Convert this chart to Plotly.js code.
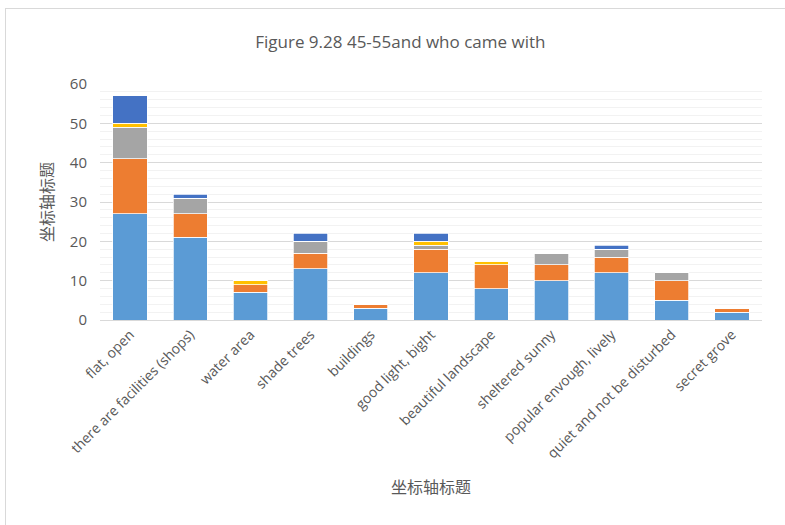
<!DOCTYPE html>
<html>
<head>
<meta charset="utf-8">
<script src="https://cdn.plot.ly/plotly-3.0.1.min.js"></script>
<style>
html,body{margin:0;padding:0;background:#fff;}
#wrap{position:relative;width:785px;height:525px;}
#chart{position:absolute;left:0;top:0;width:785px;height:525px;}
#frame{position:absolute;left:5px;top:8px;width:790px;height:530px;border:1px solid #D9D9D9;pointer-events:none;}
</style>
</head>
<body>
<div id="wrap"><div id="chart"></div><div id="frame"></div></div>
<script>
const categories = ["flat, open","there are facilities (shops)","water area","shade trees","buildings","good light, bight","beautiful landscape","sheltered sunny","popular envough, lively","quiet and not be disturbed","secret grove"];
const seriesNames = ["Series 1","Series 2","Series 3","Series 4","Series 5"];
const series1 = [27,21,7,13,3,12,8,10,12,5,2];
const series2 = [14,6,2,4,1,6,6,4,4,5,1];
const series3 = [8,4,0,3,0,1,0,3,2,2,0];
const series4 = [1,0,1,0,0,1,1,0,0,0,0];
const series5 = [7,1,0,2,0,2,0,0,1,0,0];
const colors = ["#5B9BD5","#ED7D31","#A5A5A5","#FFC000","#4472C4"];
const allSeries = [series1,series2,series3,series4,series5];

const FONT = "'Open Sans', 'Noto Sans', sans-serif";
const CJK = "'Noto Sans CJK SC', sans-serif";
const data = allSeries.map((vals,i)=>({
  type:'bar', x:categories, y:vals, name:seriesNames[i],
  marker:{color:colors[i], line:{color:'#FFFFFF', width:0.75}}
}));
const layout = {
  width:785, height:525,
  barmode:'stack', bargap:0.43,
  showlegend:false,
  paper_bgcolor:'#FFFFFF', plot_bgcolor:'#FFFFFF',
  margin:{l:100, r:23, t:84, b:205},
  font:{family:FONT, color:'#595959', size:14},
  title:{text:'Figure 9.28 45-55and who came with', font:{family:FONT, size:17, color:'#595959'}, x:0.51, xref:'container', xanchor:'center', y:0.92, yanchor:'middle'},
  xaxis:{
    type:'category', tickangle:-45, showgrid:false, zeroline:false,
    showline:true, linecolor:'#D9D9D9', linewidth:1, ticks:'',
    tickfont:{family:FONT, size:14, color:'#595959'},
    title:{text:'坐标轴标题', font:{family:CJK, size:16, color:'#595959'}, standoff:20},
    automargin:false
  },
  yaxis:{
    range:[0,60], dtick:10, tick0:0, showgrid:true, gridcolor:'#D9D9D9', gridwidth:1,
    zeroline:false, showline:false, ticks:'', ticklabelstandoff:12,
    minor:{dtick:2, showgrid:true, gridcolor:'#F2F2F2', gridwidth:1},
    tickfont:{family:FONT, size:15, color:'#595959'},
    title:{text:'坐标轴标题', font:{family:CJK, size:16, color:'#595959'}, standoff:12},
    automargin:false
  }
};
Plotly.newPlot('chart', data, layout, {displayModeBar:false, staticPlot:true});
</script>
</body>
</html>
